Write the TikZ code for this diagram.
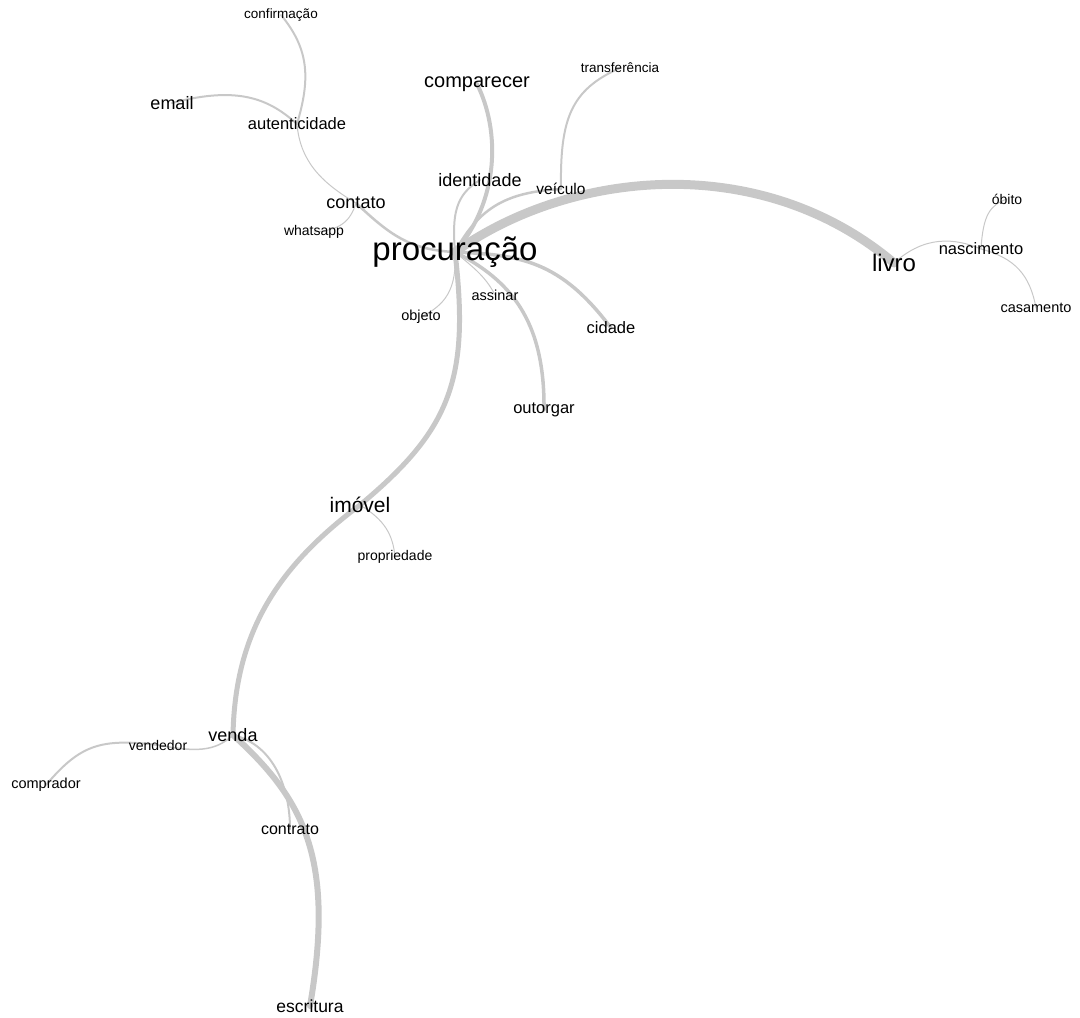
\documentclass[tikz,border=0pt]{standalone}
\usepackage{fontspec}
\setmainfont{Liberation Sans}
\definecolor{edgegray}{RGB}{200,200,200}
\pgfdeclarelayer{bg}
\pgfsetlayers{bg,main}
\begin{document}
\begin{tikzpicture}[x=1pt,y=-1pt,
  lbl/.style={font=\fontsize{#1}{#1}\selectfont, inner sep=0pt, text=black},
  edge/.style={draw=edgegray, line cap=round, line width=#1}]
\useasboundingbox (0,0) rectangle (1080,1018);
% labels
\node[lbl=33] (procuracao) at (455,252) {procuração};
\node[lbl=24] (livro) at (894,263) {livro};
\node[lbl=20] (comparecer) at (477,84) {comparecer};
\node[lbl=18] (identidade) at (480,180) {identidade};
\node[lbl=15.5] (veiculo) at (561,189) {veículo};
\node[lbl=13.5] (transferencia) at (620,68) {transferência};
\node[lbl=18] (email) at (172,103) {email};
\node[lbl=16.5] (autenticidade) at (297,124) {autenticidade};
\node[lbl=13.5] (confirmacao) at (281,15) {confirmação};
\node[lbl=18] (contato) at (356,203) {contato};
\node[lbl=14] (whatsapp) at (314,232) {whatsapp};
\node[lbl=14.5] (objeto) at (421,317) {objeto};
\node[lbl=14.5] (assinar) at (495,295) {assinar};
\node[lbl=16.5] (cidade) at (611,328) {cidade};
\node[lbl=16.5] (outorgar) at (544,410) {outorgar};
\node[lbl=21] (imovel) at (360,505) {imóvel};
\node[lbl=14] (propriedade) at (395,557) {propriedade};
\node[lbl=18] (venda) at (233,735) {venda};
\node[lbl=14] (vendedor) at (158,745) {vendedor};
\node[lbl=14.5] (comprador) at (46,785) {comprador};
\node[lbl=16] (contrato) at (290,829) {contrato};
\node[lbl=17.5] (escritura) at (310,1006) {escritura};
\node[lbl=16.5] (nascimento) at (981,249) {nascimento};
\node[lbl=14] (obito) at (1007,199) {óbito};
\node[lbl=14.5] (casamento) at (1036,308) {casamento};
% edges
\begin{pgfonlayer}{bg}
\draw[edge=9] (procuracao.center) .. controls (570,170) and (760,150) .. (livro.center);
\draw[edge=5] (procuracao.center) .. controls (470,380) and (450,430) .. (imovel.center);
\draw[edge=5] (imovel.center) .. controls (280,565) and (235,630) .. (venda.center);
\draw[edge=6] (venda.center) .. controls (305,800) and (335,860) .. (escritura.center);
\draw[edge=2] (venda.center) .. controls (275,745) and (290,790) .. (contrato.center);
\draw[edge=1.5] (venda.center) .. controls (215,752) and (195,752) .. (vendedor.center);
\draw[edge=2] (vendedor.center) .. controls (100,738) and (80,745) .. (comprador.center);
\draw[edge=1] (imovel.center) .. controls (385,520) and (393,535) .. (propriedade.center);
\draw[edge=4] (procuracao.center) .. controls (500,200) and (500,130) .. (comparecer.center);
\draw[edge=2] (procuracao.center) .. controls (452,215) and (455,195) .. (identidade.center);
\draw[edge=2.5] (procuracao.center) .. controls (480,205) and (510,192) .. (veiculo.center);
\draw[edge=2] (veiculo.center) .. controls (560,120) and (570,90) .. (transferencia.center);
\draw[edge=3.5] (procuracao.center) .. controls (520,255) and (560,260) .. (cidade.center);
\draw[edge=3.5] (procuracao.center) .. controls (510,280) and (545,320) .. (outorgar.center);
\draw[edge=1] (procuracao.center) .. controls (470,265) and (485,275) .. (assinar.center);
\draw[edge=1] (procuracao.center) .. controls (457,290) and (445,305) .. (objeto.center);
\draw[edge=2.5] (contato.center) .. controls (390,235) and (410,250) .. (procuracao.center);
\draw[edge=1] (contato.center) .. controls (320,182) and (300,160) .. (autenticidade.center);
\draw[edge=1] (contato.center) .. controls (350,222) and (340,230) .. (whatsapp.center);
\draw[edge=2] (autenticidade.center) .. controls (270,100) and (240,85) .. (email.center);
\draw[edge=2] (autenticidade.center) .. controls (310,80) and (310,50) .. (confirmacao.center);
\draw[edge=1] (livro.center) .. controls (925,235) and (955,238) .. (nascimento.center);
\draw[edge=1] (nascimento.center) .. controls (983,215) and (990,205) .. (obito.center);
\draw[edge=1] (nascimento.center) .. controls (1015,258) and (1030,275) .. (casamento.center);
\end{pgfonlayer}
\end{tikzpicture}
\end{document}
